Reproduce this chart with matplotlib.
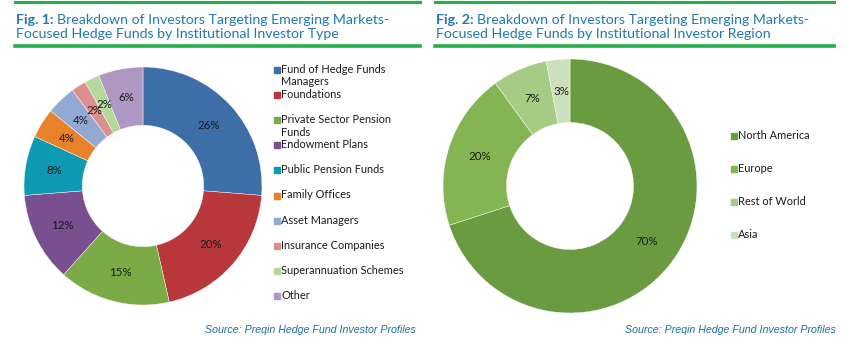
import matplotlib
matplotlib.use("Agg")
import matplotlib.pyplot as plt
from matplotlib.lines import Line2D
from matplotlib.patches import Rectangle

plt.rcParams["font.family"] = ["Lato", "DejaVu Sans"]

# Fig. 1 data: investor type
type_labels = ["Fund of Hedge Funds\nManagers", "Foundations",
               "Private Sector Pension\nFunds", "Endowment Plans",
               "Public Pension Funds", "Family Offices", "Asset Managers",
               "Insurance Companies", "Superannuation Schemes", "Other"]
type_values = [26, 20, 15, 12, 8, 4, 4, 2, 2, 6]
type_colors = ["#3D6EA8", "#B8373B", "#7BAA47", "#7A4F8F", "#0E9AB3",
               "#E8822A", "#93A9D4", "#DC8F8F", "#B5D89C", "#AE97C3"]

# Fig. 2 data: investor region
region_labels = ["North America", "Europe", "Rest of World", "Asia"]
region_values = [70, 20, 7, 3]
region_colors = ["#6B9B41", "#84B552", "#A6CB85", "#CCE0BB"]

title_color = "#2179AE"
green = "#22B04B"
W, H = 851, 347
TITLE_SIZE = 10.2

fig = plt.figure(figsize=(W / 100, H / 100), dpi=100)


def px_axes(cx, cy, r):
    # axes box (pixel coords, y from top) centred on the donut
    return fig.add_axes([(cx - r) / W, (H - cy - r) / H, 2 * r / W, 2 * r / H])


def donut(ax, values, colors, width):
    ax.pie(values, colors=colors, startangle=90, counterclock=False,
           radius=1.0, autopct=lambda p: f"{p:.0f}%", pctdistance=1 - width / 2,
           wedgeprops=dict(width=width, edgecolor="white", linewidth=0.3),
           textprops=dict(fontsize=8.3, color="#1a1a1a"))
    ax.set_xlim(-1, 1)
    ax.set_ylim(-1, 1)
    ax.set_aspect("equal")
    ax.axis("off")


def header(x0, x1, num, text):
    for y in (1.5, 45.5):
        fig.add_artist(Line2D([x0 / W, x1 / W], [1 - y / H, 1 - y / H],
                              color=green, linewidth=2.2 if y < 10 else 2.6))
    t = fig.text((x0 + 1) / W, 1 - 20 / H, f"Fig. {num}:", color=title_color,
                 fontsize=TITLE_SIZE, fontweight="bold", va="center")
    fig.canvas.draw()
    bb = t.get_window_extent()
    lines = text.split("\n")
    fig.text(bb.x1 / W + 0.004, 1 - 20 / H, lines[0], color=title_color,
             fontsize=TITLE_SIZE, va="center")
    fig.text((x0 + 1) / W, 1 - 34.5 / H, lines[1], color=title_color,
             fontsize=TITLE_SIZE, va="center")


def legend(x, y_top, step, labels, colors):
    for i, (lab, col) in enumerate(zip(labels, colors)):
        y = y_top + i * step
        fig.add_artist(Rectangle(((x - 7) / W, 1 - (y + 3) / H), 6 / W, 6 / H,
                                 color=col, transform=fig.transFigure))
        fig.text(x / W, 1 - (y - 6) / H, lab, fontsize=7.9, color="#1a1a1a",
                 va="top", linespacing=1.15)


header(15, 420, 1, "Breakdown of Investors Targeting Emerging Markets-\n"
       "Focused Hedge Funds by Institutional Investor Type")
header(435, 834, 2, "Breakdown of Investors Targeting Emerging Markets-\n"
       "Focused Hedge Funds by Institutional Investor Region")

ax1 = px_axes(143, 186, 119)
donut(ax1, type_values, type_colors, 0.49)
ax2 = px_axes(570, 186, 127)
donut(ax2, region_values, region_colors, 0.5)

legend(281, 70, 25.1, type_labels, type_colors)
legend(738, 136, 33, region_labels, region_colors)

for xr in (416, 836):
    fig.text(xr / W, 1 - 330 / H, "Source: Preqin Hedge Fund Investor Profiles",
             fontsize=7.7, style="italic", color="#1F6E9A", ha="right",
             va="center", family=["Liberation Sans", "DejaVu Sans"])

fig.savefig("out.png", dpi=100, facecolor="white")
